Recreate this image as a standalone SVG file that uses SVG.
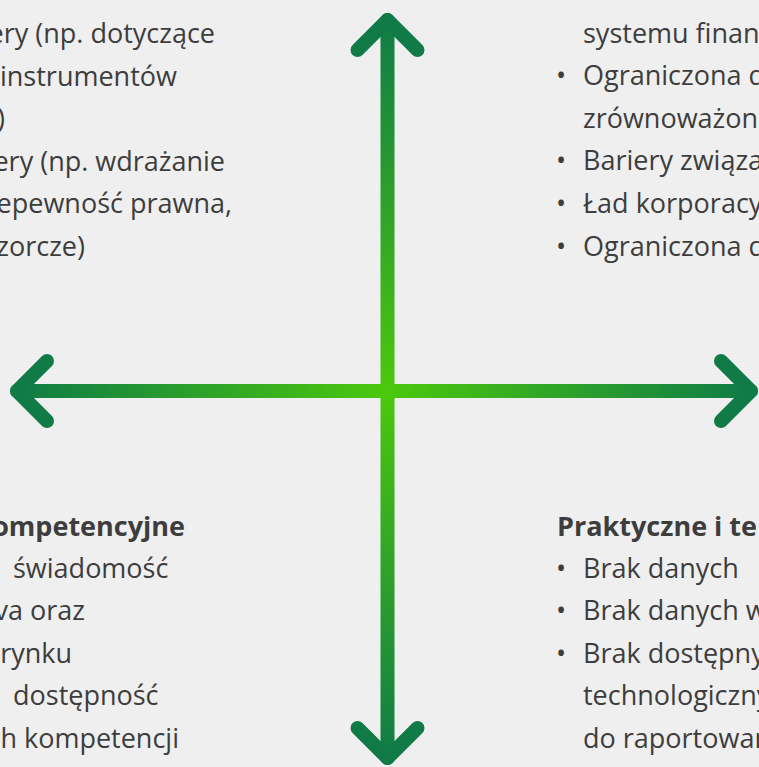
<svg xmlns="http://www.w3.org/2000/svg" width="759" height="767" viewBox="0 0 759 767">
<style>
text{font-family:"Open Sans","Noto Sans","Liberation Sans",sans-serif;font-size:27px;fill:#3d3d3d}
.b{font-weight:700}
.e{text-anchor:end}
.ax{fill:none;stroke-width:14;stroke-linecap:round;stroke-linejoin:round}
.hd{stroke:#107b47}
</style>
<defs>
<linearGradient id="gh" gradientUnits="userSpaceOnUse" x1="17" y1="0" x2="751" y2="0">
<stop offset="0" stop-color="#107b47"/><stop offset="0.504" stop-color="#4cc80d"/><stop offset="1" stop-color="#107b47"/>
</linearGradient>
<linearGradient id="gv" gradientUnits="userSpaceOnUse" x1="0" y1="20" x2="0" y2="758">
<stop offset="0" stop-color="#107b47"/><stop offset="0.502" stop-color="#4cc80d"/><stop offset="1" stop-color="#107b47"/>
</linearGradient>
</defs>
<rect width="759" height="767" fill="#efefef"/>
<g id="connectors">
<line class="ax" x1="17" y1="391" x2="751" y2="391" stroke="url(#gh)"/>
<line class="ax" x1="387.5" y1="20" x2="387.5" y2="758" stroke="url(#gv)"/>
<polyline class="ax hd" points="47,361 17,391 47,421"/>
<polyline class="ax hd" points="721,361 751,391 721,421"/>
<polyline class="ax hd" points="357.5,50 387.5,20 417.5,50"/>
<polyline class="ax hd" points="357.5,728 387.5,758 417.5,728"/>
</g>
<g id="top-left">
<text class="e" x="215" y="43">ery (np. dotyczące</text>
<text x="0" y="86">instrumentów</text>
<text class="e" x="5" y="128">)</text>
<text class="e" x="225" y="171">ery (np. wdrażanie</text>
<text class="e" x="232" y="213">epewność prawna,</text>
<text class="e" x="85" y="256">zorcze)</text>
</g>
<g id="top-right">
<text x="583" y="43">systemu finan</text>
<text x="556" y="85">•</text><text x="583" y="85">Ograniczona d</text>
<text x="583" y="128">zrównoważon</text>
<text x="556" y="170">•</text><text x="583" y="170">Bariery związa</text>
<text x="556" y="213">•</text><text x="583" y="213">Ład korporacy</text>
<text x="556" y="256">•</text><text x="583" y="256">Ograniczona d</text>
</g>
<g id="bottom-left">
<text class="b e" x="185" y="536">ompetencyjne</text>
<text x="13" y="578">świadomość</text>
<text class="e" x="85" y="620">va oraz</text>
<text class="e" x="72" y="663">rynku</text>
<text x="13" y="705">dostępność</text>
<text class="e" x="179" y="748">h kompetencji</text>
</g>
<g id="bottom-right">
<text class="b" x="557" y="536">Praktyczne i te</text>
<text x="556" y="578">•</text><text x="583" y="578">Brak danych</text>
<text x="556" y="620">•</text><text x="583" y="620">Brak danych w</text>
<text x="556" y="663">•</text><text x="583" y="663">Brak dostępny</text>
<text x="583" y="705">technologiczny</text>
<text x="583" y="748">do raportowan</text>
</g>
</svg>
